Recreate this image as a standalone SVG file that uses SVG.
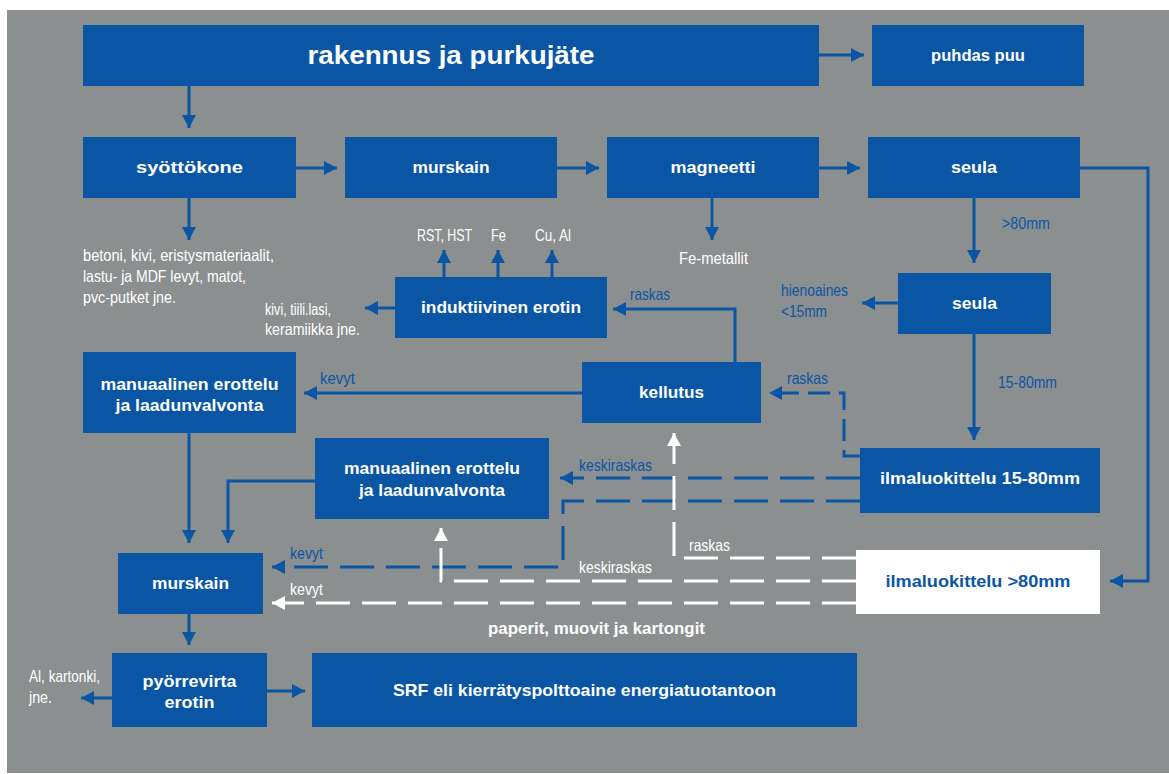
<svg xmlns="http://www.w3.org/2000/svg" width="1169" height="774" viewBox="0 0 1169 774">
<defs>
<style>
.box{fill:#0a56a5}
.wbox{fill:#ffffff}
.t{font-family:"Liberation Sans",Arial,sans-serif;font-weight:bold;fill:#ffffff;text-anchor:middle;font-size:17px}
.tb{font-family:"Liberation Sans",Arial,sans-serif;font-weight:bold;fill:#0a56a5;text-anchor:middle;font-size:17px}
.l{font-family:"Liberation Sans Narrow","Liberation Sans",Arial,sans-serif;fill:#ffffff;font-size:16.5px}
.lb{font-family:"Liberation Sans Narrow","Liberation Sans",Arial,sans-serif;fill:#0a56a5;font-size:16.5px}
.c{fill:none;stroke:#0a56a5;stroke-width:3}
.cd{fill:none;stroke:#0a56a5;stroke-width:3;stroke-dasharray:34 12}
.cs{fill:none;stroke:#0a56a5;stroke-width:3;stroke-dasharray:22 9}
.wd{fill:none;stroke:#ffffff;stroke-width:3;stroke-dasharray:34 12}
</style>
<marker id="ab" markerUnits="userSpaceOnUse" markerWidth="14" markerHeight="14" refX="13" refY="7" orient="auto"><path d="M0,0 L13,7 L0,14 Z" fill="#0a56a5"/></marker>
<marker id="aw" markerUnits="userSpaceOnUse" markerWidth="14" markerHeight="14" refX="13" refY="7" orient="auto"><path d="M0,0 L13,7 L0,14 Z" fill="#ffffff"/></marker>
</defs>
<rect x="7" y="10" width="1162" height="763" fill="#8c8f90"/>

<g id="connectors">
<path class="c" marker-end="url(#ab)" d="M819,55 H864"/>
<path class="c" marker-end="url(#ab)" d="M189,86 V128"/>
<path class="c" marker-end="url(#ab)" d="M296,168 H337"/>
<path class="c" marker-end="url(#ab)" d="M557,168 H599"/>
<path class="c" marker-end="url(#ab)" d="M819,168 H860"/>
<path class="c" marker-end="url(#ab)" d="M189,198 V240"/>
<path class="c" marker-end="url(#ab)" d="M712,198 V240"/>
<path class="c" marker-end="url(#ab)" d="M974,198 V263"/>
<path class="c" marker-end="url(#ab)" d="M1080,168 H1148 V581 H1110"/>
<path class="c" marker-end="url(#ab)" d="M974,334 V440"/>
<path class="c" marker-end="url(#ab)" d="M898,303 H862"/>
<path class="c" marker-end="url(#ab)" d="M444,277 V250"/>
<path class="c" marker-end="url(#ab)" d="M498,277 V250"/>
<path class="c" marker-end="url(#ab)" d="M552,277 V250"/>
<path class="c" marker-end="url(#ab)" d="M395,308 H365"/>
<path class="c" marker-end="url(#ab)" d="M735,362 V309 H613"/>
<path class="c" marker-end="url(#ab)" d="M582,393 H304"/>
<path class="c" marker-end="url(#ab)" d="M189,433 V543"/>
<path class="c" marker-end="url(#ab)" d="M315,481 H228 V543"/>
<path class="c" marker-end="url(#ab)" d="M189,614 V645"/>
<path class="c" marker-end="url(#ab)" d="M112,698 H81"/>
<path class="c" marker-end="url(#ab)" d="M267,691 H305"/>
<path class="cs" marker-end="url(#ab)" d="M860,456 H844 V393 H769"/>
<path class="cd" marker-end="url(#ab)" d="M860,478 H560"/>
<path class="cd" marker-end="url(#ab)" d="M860,501 H563 V567 H272"/>
<path class="wd" marker-end="url(#aw)" d="M856,558 H674 V433"/>
<path class="wd" marker-end="url(#aw)" d="M856,581 H441 V528"/>
<path class="wd" marker-end="url(#aw)" d="M856,603 H272"/>
</g>

<g id="n-rakennus"><rect class="box" x="83" y="25" width="736" height="61"/><text class="t" x="451" y="64" style="font-size:26px" textLength="287" lengthAdjust="spacingAndGlyphs">rakennus ja purkujäte</text></g>
<g id="n-puhdas"><rect class="box" x="872" y="25" width="212" height="61"/><text class="t" x="978" y="61" textLength="94" lengthAdjust="spacingAndGlyphs">puhdas puu</text></g>
<g id="n-syottokone"><rect class="box" x="83" y="137" width="213" height="61"/><text class="t" x="189.5" y="173" textLength="107" lengthAdjust="spacingAndGlyphs">syöttökone</text></g>
<g id="n-murskain1"><rect class="box" x="345" y="137" width="212" height="61"/><text class="t" x="451" y="173" textLength="77" lengthAdjust="spacingAndGlyphs">murskain</text></g>
<g id="n-magneetti"><rect class="box" x="607" y="137" width="212" height="61"/><text class="t" x="713" y="173" textLength="85" lengthAdjust="spacingAndGlyphs">magneetti</text></g>
<g id="n-seula1"><rect class="box" x="868" y="137" width="212" height="61"/><text class="t" x="974" y="173" textLength="46" lengthAdjust="spacingAndGlyphs">seula</text></g>
<g id="n-seula2"><rect class="box" x="898" y="273" width="153" height="61"/><text class="t" x="974.5" y="309" textLength="45" lengthAdjust="spacingAndGlyphs">seula</text></g>
<g id="n-induktiivinen"><rect class="box" x="395" y="277" width="212" height="61"/><text class="t" x="501" y="313" textLength="160" lengthAdjust="spacingAndGlyphs">induktiivinen erotin</text></g>
<g id="n-kellutus"><rect class="box" x="582" y="362" width="179" height="61"/><text class="t" x="671.5" y="398" textLength="65" lengthAdjust="spacingAndGlyphs">kellutus</text></g>
<g id="n-manuaalinen1"><rect class="box" x="83" y="352" width="213" height="81"/><text class="t" x="189.5" y="390" textLength="178" lengthAdjust="spacingAndGlyphs">manuaalinen erottelu</text><text class="t" x="189.5" y="411" textLength="148" lengthAdjust="spacingAndGlyphs">ja laadunvalvonta</text></g>
<g id="n-manuaalinen2"><rect class="box" x="315" y="438" width="234" height="81"/><text class="t" x="432" y="474" textLength="176" lengthAdjust="spacingAndGlyphs">manuaalinen erottelu</text><text class="t" x="432" y="496" textLength="146" lengthAdjust="spacingAndGlyphs">ja laadunvalvonta</text></g>
<g id="n-ilma15"><rect class="box" x="860" y="448" width="240" height="65"/><text class="t" x="980" y="484" textLength="200" lengthAdjust="spacingAndGlyphs">ilmaluokittelu 15-80mm</text></g>
<g id="n-ilma80"><rect class="wbox" x="856" y="550" width="244" height="64"/><text class="tb" x="978" y="587" textLength="185" lengthAdjust="spacingAndGlyphs">ilmaluokittelu &gt;80mm</text></g>
<g id="n-murskain2"><rect class="box" x="118" y="553" width="145" height="61"/><text class="t" x="190.5" y="589" textLength="77" lengthAdjust="spacingAndGlyphs">murskain</text></g>
<g id="n-pyorrevirta"><rect class="box" x="112" y="653" width="155" height="74"/><text class="t" x="189.5" y="687" textLength="94" lengthAdjust="spacingAndGlyphs">pyörrevirta</text><text class="t" x="189.5" y="708" textLength="50" lengthAdjust="spacingAndGlyphs">erotin</text></g>
<g id="n-srf"><rect class="box" x="312" y="653" width="545" height="74"/><text class="t" x="584.5" y="696" textLength="383" lengthAdjust="spacingAndGlyphs">SRF eli kierrätyspolttoaine energiatuotantoon</text></g>

<g id="labels">
<text class="l" x="83" y="261" textLength="191" lengthAdjust="spacingAndGlyphs">betoni, kivi, eristysmateriaalit,</text>
<text class="l" x="83" y="282" textLength="163" lengthAdjust="spacingAndGlyphs">lastu- ja MDF levyt, matot,</text>
<text class="l" x="83" y="303" textLength="93" lengthAdjust="spacingAndGlyphs">pvc-putket jne.</text>
<text class="l" x="417" y="241" textLength="55" lengthAdjust="spacingAndGlyphs">RST, HST</text>
<text class="l" x="491" y="241" textLength="15" lengthAdjust="spacingAndGlyphs">Fe</text>
<text class="l" x="535" y="241" textLength="36" lengthAdjust="spacingAndGlyphs">Cu, Al</text>
<text class="l" x="679" y="264" textLength="69" lengthAdjust="spacingAndGlyphs">Fe-metallit</text>
<text class="lb" x="1002" y="229" textLength="48" lengthAdjust="spacingAndGlyphs">&gt;80mm</text>
<text class="lb" x="781" y="296" textLength="67" lengthAdjust="spacingAndGlyphs">hienoaines</text>
<text class="lb" x="781" y="317" textLength="46" lengthAdjust="spacingAndGlyphs">&lt;15mm</text>
<text class="lb" x="998" y="388" textLength="59" lengthAdjust="spacingAndGlyphs">15-80mm</text>
<text class="l" x="265" y="315" textLength="66" lengthAdjust="spacingAndGlyphs">kivi, tiili.lasi,</text>
<text class="l" x="265" y="335" textLength="95" lengthAdjust="spacingAndGlyphs">keramiikka jne.</text>
<text class="lb" x="630" y="300" textLength="40" lengthAdjust="spacingAndGlyphs">raskas</text>
<text class="lb" x="320" y="384" textLength="35" lengthAdjust="spacingAndGlyphs">kevyt</text>
<text class="lb" x="787" y="384" textLength="41" lengthAdjust="spacingAndGlyphs">raskas</text>
<text class="lb" x="579" y="471" textLength="73" lengthAdjust="spacingAndGlyphs">keskiraskas</text>
<text class="lb" x="290" y="559" textLength="33" lengthAdjust="spacingAndGlyphs">kevyt</text>
<text class="l" x="689" y="551" textLength="41" lengthAdjust="spacingAndGlyphs">raskas</text>
<text class="l" x="579" y="573" textLength="73" lengthAdjust="spacingAndGlyphs">keskiraskas</text>
<text class="l" x="290" y="595" textLength="33" lengthAdjust="spacingAndGlyphs">kevyt</text>
<text class="l" x="488" y="634" style="font-size:17px;font-weight:bold" textLength="217" lengthAdjust="spacingAndGlyphs">paperit, muovit ja kartongit</text>
<text class="l" x="29" y="682" textLength="71" lengthAdjust="spacingAndGlyphs">Al, kartonki,</text>
<text class="l" x="29" y="703" textLength="23" lengthAdjust="spacingAndGlyphs">jne.</text>
</g>
</svg>
